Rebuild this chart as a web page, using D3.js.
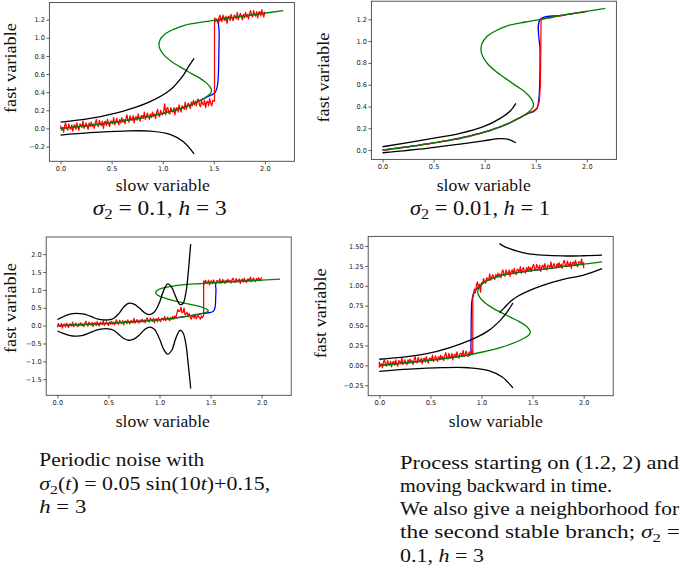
<!DOCTYPE html>
<html><head><meta charset="utf-8">
<script src="https://cdn.jsdelivr.net/npm/d3@7/dist/d3.min.js"></script>
<style>body{margin:0;background:#fff}svg{display:block}</style>
</head><body>
<svg id="c" width="685" height="568"></svg>
<script>
// ---------------- DATA ----------------
const xTicks = [0, 0.5, 1.0, 1.5, 2.0];
const yTicksP1 = [-0.2, 0, 0.2, 0.4, 0.6, 0.8, 1.0, 1.2];
const yTicksP2 = [0, 0.2, 0.4, 0.6, 0.8, 1.0, 1.2];
const yTicksP3 = [-1.5, -1.0, -0.5, 0, 0.5, 1.0, 1.5, 2.0];
const yTicksP4 = [-0.25, 0, 0.25, 0.5, 0.75, 1.0, 1.25, 1.5];

// slow manifold (S-shaped critical curve), [slow, fast]
const greenBranch = [[0,0],[0.25,0.03],[0.5,0.065],[0.75,0.105],[1.0,0.165],[1.2,0.23],[1.35,0.3],[1.43,0.35],[1.47,0.39],[1.478,0.415],[1.468,0.45],[1.43,0.5],[1.37,0.55],[1.29,0.6],[1.2,0.66],[1.11,0.72],[1.03,0.79],[0.98,0.86],[0.963,0.92],[0.975,0.98],[1.02,1.04],[1.1,1.09],[1.22,1.14],[1.4,1.175],[1.55,1.2],[1.75,1.235],[1.95,1.265],[2.18,1.30]];

// panel 1: sigma2 = 0.1, h = 3
const p1BlackUpper = [[0,0.07],[0.289,0.111],[0.615,0.192],[0.877,0.295],[1.072,0.424],[1.203,0.589],[1.252,0.681],[1.307,0.774]];
const p1BlackLower = [[0,-0.073],[0.289,-0.047],[0.615,-0.029],[0.877,-0.029],[1.072,-0.065],[1.203,-0.147],[1.307,-0.28]];
const p1Blue = [[0,0],[0.5,0.065],[1.0,0.165],[1.2,0.23],[1.35,0.3],[1.43,0.345],[1.48,0.37],[1.515,0.4],[1.535,0.47],[1.545,0.6],[1.55,0.85],[1.553,1.05],[1.556,1.2],[1.7,1.225],[1.85,1.25],[2.0,1.272]];
// red sample path, sampled every 0.01 in slow variable
const p1RedLowY = [0.03,-0.02,0.01,-0.04,0.03,0.06,0.00,-0.02,0.05,0.01,
-0.01,0.04,-0.03,0.03,0.04,-0.01,0.06,0.01,-0.02,0.05,
0.04,0.01,0.08,0.00,0.03,0.06,0.02,-0.01,0.06,0.02,
0.07,0.02,0.05,0.00,0.06,0.10,0.04,0.02,0.09,0.05,
0.03,0.08,0.00,0.07,0.08,0.03,0.10,0.05,0.02,0.08,
0.08,0.05,0.12,0.04,0.07,0.11,0.07,0.04,0.10,0.06,
0.12,0.07,0.10,0.05,0.11,0.15,0.09,0.07,0.14,0.10,
0.09,0.14,0.06,0.12,0.13,0.09,0.16,0.11,0.08,0.14,
0.14,0.11,0.18,0.10,0.13,0.17,0.13,0.10,0.16,0.12,
0.18,0.13,0.16,0.11,0.17,0.21,0.15,0.13,0.20,0.16,
0.15,0.20,0.27,0.15,0.22,0.23,0.17,0.16,0.23,0.19,
0.18,0.23,0.15,0.22,0.23,0.18,0.26,0.21,0.18,0.25,
0.24,0.21,0.29,0.21,0.25,0.28,0.25,0.22,0.29,0.25,
0.31,0.26,0.30,0.25,0.32,0.32,0.26,0.24,0.31,0.27,
0.26,0.31,0.23,0.29,0.30,0.25,0.33,0.28,0.25,0.31,
0.30];
const p1RedJump = [[1.507,0.30],[1.507,1.21]];
const p1RedHighY = [1.22,1.18,1.21,1.16,1.22,1.25,1.19,1.18,1.25,1.21,
1.19,1.24,1.16,1.23,1.24,1.19,1.26,1.21,1.19,1.25,
1.24,1.21,1.28,1.20,1.24,1.27,1.23,1.20,1.26,1.22,
1.28,1.23,1.26,1.21,1.27,1.30,1.25,1.23,1.30,1.26,
1.24,1.29,1.22,1.28,1.29,1.24,1.31,1.26,1.23,1.29];

// panel 2: sigma2 = 0.01, h = 1
const p2BlackUpper = [[0,0.03],[0.434,0.098],[0.76,0.153],[0.988,0.214],[1.152,0.291],[1.25,0.358],[1.305,0.429]];
const p2BlackLower = [[0,-0.025],[0.434,0.015],[0.76,0.055],[0.988,0.085],[1.152,0.104],[1.233,0.098],[1.305,0.067]];
const p2Blue = [[0,0],[0.5,0.065],[1.0,0.165],[1.2,0.23],[1.35,0.3],[1.44,0.34],[1.48,0.355],[1.51,0.38],[1.528,0.45],[1.538,0.6],[1.542,0.9],[1.545,1.2],[1.75,1.235],[2.0,1.272]];
const p2Red = [[0,0.004],[0.05,-0.002],[0.1,0.014],[0.15,0.013],[0.2,0.027],[0.25,0.026],[0.3,0.041],[0.35,0.04],[0.4,0.054],[0.45,0.055],[0.5,0.069],[0.55,0.07],[0.6,0.085],[0.65,0.086],[0.7,0.1],[0.75,0.103],[0.8,0.12],[0.85,0.124],[0.9,0.144],[0.95,0.15],[1.0,0.169],[1.05,0.176],[1.1,0.2],[1.15,0.209],[1.2,0.234],[1.25,0.25],[1.3,0.279],[1.35,0.298],[1.4,0.326],[1.44,0.344],[1.48,0.36],[1.515,0.385],[1.535,0.45],[1.545,0.6],[1.549,0.9],[1.552,1.2],[1.6,1.212],[1.65,1.214],[1.7,1.226],[1.75,1.231],[1.8,1.245],[1.85,1.248],[1.9,1.26],[1.95,1.262],[2.0,1.274]];

// panel 3: periodic noise
const p3BlackUpper = [[0,0.17],[0.05,0.24],[0.1,0.3],[0.15,0.335],[0.19,0.345],[0.25,0.33],[0.3,0.29],[0.35,0.23],[0.4,0.18],[0.45,0.16],[0.5,0.16],[0.55,0.2],[0.6,0.33],[0.65,0.52],[0.7,0.63],[0.75,0.6],[0.8,0.5],[0.85,0.37],[0.9,0.31],[0.95,0.38],[1.0,0.65],[1.04,0.98],[1.08,1.17],[1.12,1.07],[1.16,0.8],[1.2,0.59],[1.23,0.62],[1.26,0.95],[1.28,1.45],[1.3,2.1],[1.305,2.28]];
const p3BlackLower = [[0,-0.15],[0.05,-0.21],[0.1,-0.26],[0.15,-0.29],[0.19,-0.295],[0.25,-0.27],[0.3,-0.22],[0.35,-0.16],[0.4,-0.11],[0.45,-0.09],[0.5,-0.09],[0.55,-0.13],[0.6,-0.24],[0.65,-0.36],[0.7,-0.41],[0.75,-0.38],[0.8,-0.27],[0.85,-0.12],[0.9,-0.04],[0.95,-0.1],[1.0,-0.37],[1.04,-0.66],[1.08,-0.8],[1.12,-0.69],[1.16,-0.35],[1.2,-0.13],[1.23,-0.2],[1.26,-0.55],[1.28,-1.05],[1.3,-1.6],[1.305,-1.76]];
const p3Blue = [[0,0],[0.5,0.065],[1.0,0.165],[1.2,0.23],[1.35,0.3],[1.43,0.34],[1.48,0.36],[1.515,0.38],[1.535,0.43],[1.546,0.55],[1.55,0.8],[1.553,1.0],[1.555,1.2],[1.75,1.235],[2.0,1.272]];
const p3RedLowY = [-0.05,0.06,0.00,-0.03,0.06,-0.07,0.03,0.04,-0.04,0.07,
-0.01,-0.05,0.05,0.04,-0.01,0.10,-0.03,0.02,0.07,0.01,
-0.03,0.06,0.00,0.08,0.00,0.05,-0.03,0.07,0.12,0.02,
-0.01,0.10,0.04,0.01,0.09,-0.03,0.07,0.08,0.00,0.11,
0.03,-0.01,0.09,0.08,0.03,0.14,0.01,0.06,0.11,0.04,
0.01,0.10,0.04,0.12,0.04,0.10,0.02,0.11,0.16,0.06,
0.04,0.15,0.09,0.06,0.14,0.02,0.12,0.13,0.05,0.16,
0.09,0.05,0.14,0.13,0.08,0.20,0.07,0.12,0.17,0.10,
0.07,0.16,0.10,0.18,0.10,0.16,0.08,0.17,0.22,0.12,
0.10,0.21,0.15,0.12,0.20,0.08,0.18,0.19,0.11,0.22,
0.15,0.11,0.20,0.20,0.15,0.26,0.14,0.19,0.24,0.17,
0.14,0.23,0.17,0.26,0.18,0.27,0.21,0.35,0.45,0.40,
0.40,0.52,0.36,0.37,0.49,0.30,0.34,0.37,0.25,0.34,
0.25,0.18,0.27,0.26,0.21,0.32,0.19,0.24,0.29,0.22,
0.18,0.27,0.22];
const p3RedJump = [[1.432,0.28],[1.432,1.25]];
const p3RedHighY = [1.16,1.27,1.21,1.19,1.27,1.14,1.24,1.25,1.17,1.28,
1.21,1.17,1.26,1.25,1.20,1.31,1.18,1.24,1.29,1.22,
1.18,1.27,1.21,1.30,1.22,1.27,1.19,1.28,1.33,1.23,
1.21,1.32,1.26,1.23,1.31,1.18,1.28,1.30,1.22,1.33,
1.25,1.21,1.30,1.30,1.25,1.36,1.23,1.28,1.33,1.26,
1.23,1.32,1.26,1.34,1.26,1.31,1.35];

// panel 4: backward in time, with neighbourhood of upper branch
const p4BlackUpper = [[0,0.077],[0.465,0.147],[0.885,0.315],[1.072,0.44],[1.183,0.566],[1.25,0.67],[1.308,0.784]];
const p4BlackLower = [[0,-0.075],[0.289,-0.047],[0.615,-0.029],[0.877,-0.03],[1.072,-0.065],[1.203,-0.147],[1.308,-0.284]];
const p4BlackTop = [[1.176,1.53],[1.23,1.49],[1.28,1.465],[1.35,1.435],[1.45,1.405],[1.6,1.385],[1.8,1.375],[2.0,1.378],[2.18,1.385]];
const p4BlackMid = [[1.176,0.665],[1.22,0.72],[1.28,0.8],[1.35,0.865],[1.45,0.93],[1.6,1.005],[1.8,1.08],[2.0,1.135],[2.18,1.215]];
const p4Blue = [[2.0,1.272],[1.75,1.235],[1.55,1.2],[1.4,1.175],[1.22,1.14],[1.1,1.09],[1.02,1.04],[0.975,0.99],[0.945,0.95],[0.92,0.9],[0.905,0.8],[0.9,0.6],[0.898,0.35],[0.898,0.18],[0.905,0.145],[0.8,0.116],[0.6,0.081],[0.4,0.051],[0.2,0.024],[0,0]];
const p4RedStart = [[0,-0.03]];
const p4RedLowY = [0.04,-0.01,0.02,-0.03,0.04,0.07,0.01,-0.01,0.06,0.02,
0.00,0.05,-0.02,0.04,0.05,0.00,0.07,0.02,-0.01,0.06,
0.05,0.02,0.09,0.01,0.04,0.07,0.03,0.01,0.07,0.03,
0.08,0.03,0.06,0.01,0.07,0.11,0.05,0.03,0.10,0.06,
0.04,0.09,0.02,0.08,0.09,0.04,0.11,0.06,0.03,0.09,
0.09,0.06,0.13,0.05,0.08,0.12,0.08,0.05,0.11,0.07,
0.13,0.08,0.11,0.06,0.12,0.16,0.10,0.08,0.15,0.11,
0.10,0.15,0.07,0.13,0.14,0.10,0.17,0.12,0.09,0.15,
0.15,0.12,0.19,0.11,0.14,0.18,0.14,0.11,0.17,0.13,
0.19,0.14];
const p4RedJump = [[0.915,0.14],[0.915,0.88]];
const p4RedHighY = [0.86,0.96,0.91,1.01,1.05,0.96,1.02,0.92,1.04,
1.02,1.09,1.05,1.03,1.10,1.09,1.07,1.15,1.07,1.11,
1.14,1.11,1.08,1.14,1.11,1.16,1.11,1.15,1.10,1.17,
1.20,1.14,1.12,1.20,1.16,1.14,1.20,1.12,1.18,1.20,
1.15,1.22,1.17,1.14,1.21,1.20,1.17,1.24,1.16,1.20,
1.23,1.19,1.16,1.23,1.19,1.24,1.19,1.23,1.18,1.24,
1.27,1.21,1.20,1.27,1.23,1.21,1.26,1.18,1.24,1.26,
1.21,1.28,1.23,1.20,1.26,1.25,1.23,1.30,1.22,1.25,
1.28,1.24,1.22,1.28,1.24,1.29,1.24,1.27,1.22,1.29,
1.32,1.26,1.24,1.31,1.27,1.25,1.30,1.22,1.29,1.30,
1.25,1.32,1.27,1.24,1.30,1.30,1.27,1.34,1.26,1.29];
const p4RedEnd = [[2.0,1.22]];

// texts
const xLabelText = "slow variable";
const yLabelText = "fast variable";
const captionTL = [{t:"σ",it:1},{t:"2",sub:1},{t:" = 0.1, "},{t:"h",it:1},{t:" = 3"}];
const captionTR = [{t:"σ",it:1},{t:"2",sub:1},{t:" = 0.01, "},{t:"h",it:1},{t:" = 1"}];
const blockLeft = [
  [{t:"Periodic noise with"}],
  [{t:"σ",it:1},{t:"2",sub:1},{t:"("},{t:"t",it:1},{t:") = 0.05 sin(10"},{t:"t",it:1},{t:")+0.15,"}],
  [{t:"h",it:1},{t:" = 3"}]
];
const blockRight = [
  [{t:"Process starting on (1.2, 2) and"}],
  [{t:"moving backward in time."}],
  [{t:"We also give a neighborhood for"}],
  [{t:"the second stable branch; "},{t:"σ",it:1},{t:"2",sub:1},{t:" ="}],
  [{t:"0.1, "},{t:"h",it:1},{t:" = 3"}]
];

// ---------------- DRAWING ----------------
// sampled series: value i sits at slow = start + i*step
const sampled = (start, step, ys) => ys.map((v, i) => [start + i * step, v]);
const p1Red = [].concat(sampled(0, 0.01, p1RedLowY), p1RedJump, sampled(1.51, 0.01, p1RedHighY));
const p3Red = [].concat(sampled(0, 0.01, p3RedLowY), p3RedJump, sampled(1.44, 0.01, p3RedHighY));
const p4Red = [].concat(p4RedStart, sampled(0, 0.01, p4RedLowY), p4RedJump, sampled(0.92, 0.01, p4RedHighY), p4RedEnd);

const svg = d3.select("#c");
const SERIF = "'Liberation Serif','Times New Roman',serif";
const COL = {green:"#008000", blue:"#0000ff", red:"#ff0000", black:"#000000"};

const panels = [
  {left:49.4, top:2.5, w:245, h:158.8, yd:[-0.363,1.39], yTicks:yTicksP1, fmt:".1f",
   ylab:[16,68], xlab:[162.8,191],
   lines:[[p1Blue,"blue",1],[p1Red,"red",0],[greenBranch,"green",1],[p1BlackUpper,"black",1],[p1BlackLower,"black",1]]},
  {left:371.4, top:1.2, w:245, h:158.2, yd:[-0.086,1.366], yTicks:yTicksP2, fmt:".1f",
   ylab:[329,77.5], xlab:[483.7,191],
   lines:[[p2Blue,"blue",1],[p2Red,"red",0],[greenBranch,"green",1],[p2BlackUpper,"black",1],[p2BlackLower,"black",1]]},
  {left:46.2, top:237, w:245, h:158.3, yd:[-1.95,2.48], yTicks:yTicksP3, fmt:".1f",
   ylab:[16,308], xlab:[162.8,426.7],
   lines:[[p3Blue,"blue",1],[p3Red,"red",0],[greenBranch,"green",1],[p3BlackUpper,"black",1],[p3BlackLower,"black",1]]},
  {left:368.2, top:236.4, w:245, h:159.3, yd:[-0.381,1.621], yTicks:yTicksP4, fmt:".2f",
   ylab:[326,313.3], xlab:[495.8,426.7],
   lines:[[p4Blue,"blue",1],[p4Red,"red",0],[greenBranch,"green",1],[p4BlackUpper,"black",1],[p4BlackLower,"black",1],[p4BlackTop,"black",1],[p4BlackMid,"black",1]]}
];

function rich(parent, x, y, parts, size, opts) {
  opts = opts || {};
  const t = parent.append("text").attr("x", x).attr("y", y)
    .attr("font-family", SERIF).attr("font-size", size)
    .attr("fill", "#111").attr("text-anchor", opts.anchor || "start")
    .style("white-space", "pre");
  if (opts.len) t.attr("textLength", opts.len).attr("lengthAdjust", "spacingAndGlyphs");
  if (opts.transform) t.attr("transform", opts.transform);
  let shifted = false;
  parts.forEach(p => {
    const s = t.append("tspan").text(p.t);
    if (p.it) s.attr("font-style", "italic");
    if (p.sub) { s.attr("dy", size * 0.22).attr("font-size", size * 0.72); shifted = true; }
    else if (shifted) { s.attr("dy", -size * 0.22); shifted = false; }
  });
  return t;
}

panels.forEach((P, i) => {
  const g = svg.append("g").attr("transform", `translate(${P.left},${P.top})`);
  const x = d3.scaleLinear().domain([-0.109, 2.289]).range([0, P.w]);
  const y = d3.scaleLinear().domain(P.yd).range([P.h, 0]);
  const clipId = "clip" + i;
  g.append("clipPath").attr("id", clipId).append("rect").attr("width", P.w).attr("height", P.h);

  const ax = g.append("g").attr("transform", `translate(0,${P.h})`)
    .call(d3.axisBottom(x).tickValues(xTicks).tickFormat(d3.format(".1f")).tickSize(3).tickPadding(2));
  const ay = g.append("g")
    .call(d3.axisLeft(y).tickValues(P.yTicks).tickFormat(d3.format(P.fmt)).tickSize(3).tickPadding(1.5));
  [ax, ay].forEach(a => {
    a.select(".domain").remove();
    a.selectAll(".tick line").attr("stroke", "#333").attr("stroke-width", 0.8);
    a.selectAll(".tick text").attr("font-family", "'DejaVu Sans',sans-serif").attr("font-size", 6.6).attr("fill", "#222");
  });

  const plot = g.append("g").attr("clip-path", `url(#${clipId})`);
  P.lines.forEach(([data, col, smooth]) => {
    const line = d3.line().x(d => x(d[0])).y(d => y(d[1]))
      .curve(smooth ? d3.curveCatmullRom.alpha(0.5) : d3.curveLinear);
    plot.append("path").datum(data).attr("d", line)
      .attr("fill", "none").attr("stroke", COL[col])
      .attr("stroke-width", col === "red" ? 1.25 : 1.3)
      .attr("stroke-linejoin", "round");
  });

  g.append("rect").attr("width", P.w).attr("height", P.h)
    .attr("fill", "none").attr("stroke", "#444").attr("stroke-width", 0.9);

  rich(svg, P.xlab[0], P.xlab[1], [{t:xLabelText}], 16.5, {anchor:"middle", len:94});
  rich(svg, 0, 0, [{t:yLabelText}], 16.5,
       {anchor:"middle", len:90, transform:`translate(${P.ylab[0]},${P.ylab[1]}) rotate(-90)`});
});

rich(svg, 92.7, 215, captionTL, 20, {len:134});
rich(svg, 410, 215, captionTR, 20, {len:140});

const leftLens = [165, 231, 47];
const leftYs = [466, 490, 513];
blockLeft.forEach((parts, i) => rich(svg, 39.3, leftYs[i], parts, 18.5, {len:leftLens[i]}));

const rightLens = [279, 212, 279, 280, 84];
const rightYs = [469, 492, 515, 538, 562];
blockRight.forEach((parts, i) => rich(svg, 400, rightYs[i], parts, 18.5, {len:rightLens[i]}));
</script>
</body></html>
